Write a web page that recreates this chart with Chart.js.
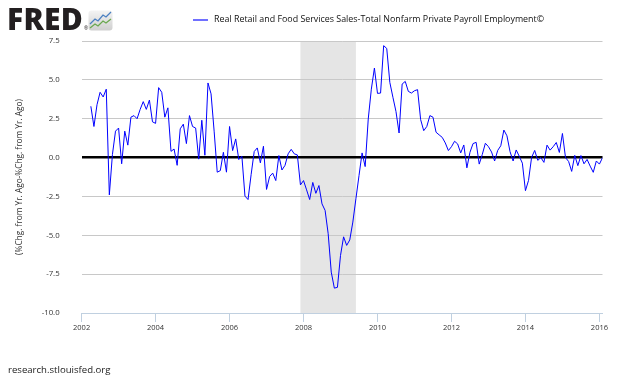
<!DOCTYPE html>
<html><head><meta charset="utf-8">
<script src="https://cdn.jsdelivr.net/npm/chart.js@4.4.0/dist/chart.umd.min.js"></script>
<style>
html,body{margin:0;padding:0;background:#fff;}
#wrap{position:relative;width:630px;height:378px;overflow:hidden;background:#fff;}
#c{position:absolute;left:0;top:0;}
#logo{position:absolute;left:7px;top:0px;font:800 30px "Open Sans";color:#231f20;letter-spacing:0.3px;line-height:38px;}
#reg{position:absolute;left:84px;top:25px;font:5px "Open Sans";color:#231f20;}
#icon{position:absolute;left:88px;top:10px;}
#legend{position:absolute;left:192px;top:12px;height:14px;white-space:nowrap;}
#legend .sw{position:absolute;left:1px;top:7px;width:15px;height:2px;background:#7070ff;}
#legend .tx{position:absolute;left:22px;top:0px;font:8.9px "Open Sans";color:#111;line-height:14px;}
#foot{position:absolute;left:8px;top:363px;font:9.6px "Open Sans";color:#222;}
</style></head>
<body>
<div id="wrap">
<canvas id="c" width="630" height="378"></canvas>
<div id="logo">FRED</div><div id="reg">®</div>
<svg id="icon" width="25" height="21" viewBox="0 0 25 21">
<defs><linearGradient id="g" x1="0" y1="0" x2="0" y2="1"><stop offset="0" stop-color="#f4f4f4"/><stop offset="1" stop-color="#cfcfcf"/></linearGradient></defs>
<rect x="0.5" y="0.5" width="24" height="20" rx="3" fill="url(#g)"/>
<polyline points="2,14 7,9 10,11 15,5 18,7 23,2" fill="none" stroke="#4a7fc1" stroke-width="1.3"/>
<polyline points="2,18 7,14 10,16 15,11 18,13 23,9" fill="none" stroke="#6aa84f" stroke-width="1.3"/>
</svg>
<div id="legend"><div class="sw"></div><div class="tx">Real Retail and Food Services Sales-Total Nonfarm Private Payroll Employment©</div></div>
<div id="foot">research.stlouisfed.org</div>
</div>
<script>
// ---- data ----
const seriesName = 'Real Retail and Food Services Sales-Total Nonfarm Private Payroll Employment©';
const startYear = 2002, startMonth = 4; // first observation: April 2002, monthly
const values = [
  3.3, 2.0, 3.4, 4.2, 3.9, 4.4, -2.4, 0.2, 1.7, 1.9,
  -0.4, 1.7, 0.8, 2.6, 2.7, 2.5, 3.1, 3.6, 3.1, 3.7,
  2.3, 2.2, 4.5, 4.2, 2.6, 3.2, 0.4, 0.55, -0.5, 1.85,
  2.15, 0.9, 2.7, 2.0, 1.9, -0.1, 2.4, 0.15, 4.8, 4.1,
  1.7, -0.94, -0.84, 0.34, -0.94, 2.0, 0.45, 1.2, -0.13, 0.09,
  -2.48, -2.7, -1.1, 0.39, 0.62, -0.34, 0.73, -2.05, -1.22, -1.0,
  -1.48, 0.13, -0.8, -0.5, 0.24, 0.53, 0.24, 0.17, -1.76, -1.48,
  -2.08, -2.7, -1.6, -2.3, -1.8, -2.98, -3.4, -4.9, -7.37, -8.4,
  -8.35, -6.3, -5.1, -5.65, -5.3, -4.15, -2.65, -1.16, 0.3, -0.58,
  2.48, 4.4, 5.76, 4.13, 4.15, 7.2, 7.02, 4.84, 3.88, 2.96,
  1.58, 4.73, 4.9, 4.26, 4.15, 4.3, 4.37, 2.44, 1.73, 2.0,
  2.7, 2.6, 1.63, 1.46, 1.3, 0.94, 0.45, 0.7, 1.05, 0.88,
  0.3, 0.81, -0.66, 0.34, 0.9, 0.98, -0.42, 0.2, 0.92, 0.7,
  0.36, -0.22, 0.46, 0.76, 1.77, 1.4, 0.38, -0.22, 0.49, 0.08,
  -0.36, -2.13, -1.47, 0.01, 0.46, -0.18, 0.0, -0.31, 0.8, 0.48,
  0.7, 0.97, 0.33, 1.55, 0.0, -0.25, -0.89, 0.14, -0.52, 0.13,
  -0.4, -0.12, -0.55, -0.95, -0.22, -0.42, -0.01
];
const xTickYears = [2002, 2004, 2006, 2008, 2010, 2012, 2014, 2016];
const yTicks = [7.5, 5.0, 2.5, 0.0, -2.5, -5.0, -7.5, -10.0];
const recessions = [[2007 + 11/12, 2009 + 5/12]]; // Dec 2007 - Jun 2009
const xMin = 2002, xMax = 2016 + 1/12;
const yTitle = '(%Chg. from Yr. Ago-%Chg. from Yr. Ago)';

// categories (monthly dates as decimal years)
const dates = values.map((_, i) => startYear + (startMonth - 1 + i) / 12);
const points = dates.map((d, i) => ({x: d, y: values[i]}));

const recessionPlugin = {
  id: 'recessions',
  beforeDraw(chart) {
    const {ctx, chartArea, scales} = chart;
    ctx.save();
    ctx.fillStyle = '#e5e5e5';
    recessions.forEach(([a, b]) => {
      const x1 = scales.x.getPixelForValue(a), x2 = scales.x.getPixelForValue(b);
      ctx.fillRect(x1, chartArea.top, x2 - x1, chartArea.bottom - chartArea.top);
    });
    ctx.restore();
  }
};

new Chart(document.getElementById('c'), {
  type: 'line',
  data: { datasets: [{
    label: seriesName, data: points,
    borderColor: '#0000ff', borderWidth: 1, pointRadius: 0, tension: 0, fill: false
  }]},
  plugins: [recessionPlugin],
  options: {
    responsive: false, animation: false, devicePixelRatio: 1,
    layout: { padding: { left: 0, top: 41, right: 27.5, bottom: 0 } },
    plugins: { legend: { display: false }, tooltip: { enabled: false } },
    scales: {
      x: {
        type: 'linear', min: xMin, max: xMax,
        afterBuildTicks: s => { s.ticks = xTickYears.map(v => ({value: v})); },
        afterFit: s => { s.height = 65; },
        ticks: { autoSkip: false, maxRotation: 0, padding: 1, color: '#333',
                 font: { family: 'Open Sans', size: 7.5 }, callback: v => String(v) },
        grid: { display: true, drawOnChartArea: false, drawTicks: true, tickLength: 9, color: '#c0d0e0', lineWidth: 1 },
        border: { display: true, color: '#c0d0e0', width: 1 }
      },
      y: {
        type: 'linear', min: -10, max: 7.5,
        afterBuildTicks: s => { s.ticks = yTicks.map(v => ({value: v})); },
        afterFit: s => { s.width = 81.6; },
        ticks: { padding: 22, color: '#333', font: { family: 'Open Sans', size: 7.8 },
                 callback: v => Number(v).toFixed(1) },
        grid: { drawTicks: false,
                color: c => (c.tick && c.tick.value === 0) ? '#000000' : '#c8c8c8',
                lineWidth: c => (c.tick && c.tick.value === 0) ? 2.5 : 1 },
        border: { display: false },
        title: { display: true, text: yTitle, color: '#333', padding: { top: 15, bottom: 0 },
                 font: { family: 'Open Sans', size: 8.3 } }
      }
    }
  }
});
</script>
</body></html>
